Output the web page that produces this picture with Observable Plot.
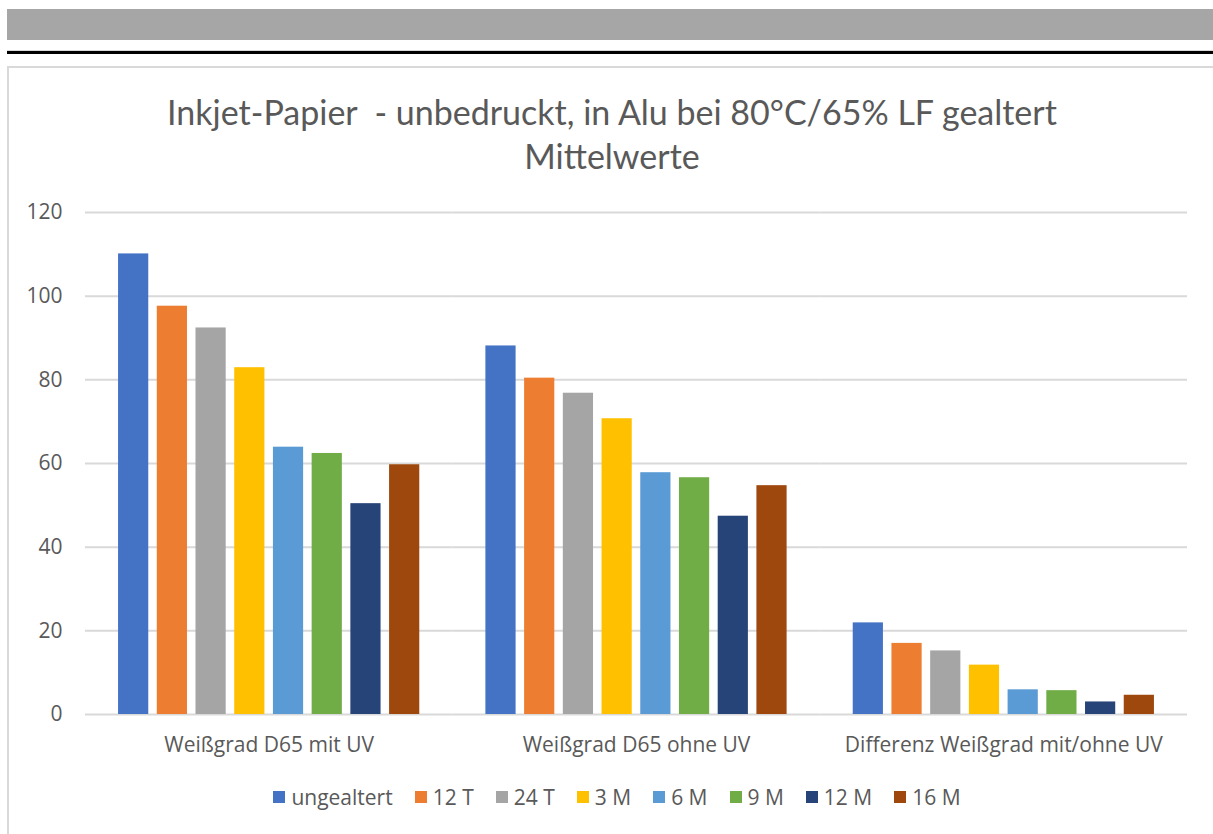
<!DOCTYPE html>
<html><head><meta charset="utf-8">
<script src="https://cdn.jsdelivr.net/npm/d3@7"></script>
<script src="https://cdn.jsdelivr.net/npm/@observablehq/plot@0.6"></script>
<style>
html,body{margin:0;padding:0;background:#fff;width:1213px;height:834px;overflow:hidden;position:relative;}
#band{position:absolute;left:7px;top:9px;width:1206px;height:31px;background:#a6a6a6;}
#thin{position:absolute;left:7px;top:50px;width:1206px;height:1px;background:#d9d9d9;}
#rule{position:absolute;left:7px;top:51px;width:1206px;height:3px;background:#000;}
#frame{position:absolute;left:7px;top:66px;width:1240px;height:820px;border-left:2px solid #d9d9d9;border-top:2px solid #d9d9d9;}
#title{position:absolute;left:0;top:90px;width:1224px;text-align:center;font-family:Lato,"Open Sans",sans-serif;font-size:34px;line-height:44px;color:#595959;white-space:pre;}
#chart{position:absolute;left:0;top:190px;}
#legend{position:absolute;left:0;top:783px;width:1234px;display:flex;justify-content:center;align-items:center;gap:22px;font-family:"Open Sans",sans-serif;font-size:21px;color:#595959;}
#legend .item{display:flex;align-items:center;}
#legend .sw{width:12px;height:12px;margin-right:6px;}
</style>
</head><body>
<div id="band"></div><div id="thin"></div><div id="rule"></div><div id="frame"></div>
<div id="title"></div>
<div id="chart"></div>
<div id="legend"></div>
<script>
const titleLines = ["Inkjet-Papier  - unbedruckt, in Alu bei 80°C/65% LF gealtert", "Mittelwerte"];
const categories = ["Weißgrad D65 mit UV", "Weißgrad D65 ohne UV", "Differenz Weißgrad mit/ohne UV"];
const series = ["ungealtert", "12 T", "24 T", "3 M", "6 M", "9 M", "12 M", "16 M"];
const mitUV = [110.1, 97.6, 92.4, 82.9, 63.9, 62.4, 50.4, 59.7];
const ohneUV = [88.1, 80.4, 76.8, 70.7, 57.8, 56.6, 47.4, 54.7];
const differenz = [21.9, 17.0, 15.2, 11.8, 5.9, 5.7, 3.0, 4.6];
const colors = ["#4472C4", "#ED7D31", "#A5A5A5", "#FFC000", "#5B9BD5", "#70AD47", "#264478", "#9E480E"];
const yTicks = [0, 20, 40, 60, 80, 100, 120];

document.getElementById("title").textContent = titleLines.join("\n");

const groups = [mitUV, ohneUV, differenz];
const data = categories.flatMap((c, i) => series.map((s, j) => ({cat: c, series: s, value: groups[i][j]})));

const plot = Plot.plot({
  width: 1213,
  height: 580,
  marginLeft: 85,
  marginRight: 26,
  marginTop: 22,
  marginBottom: 56,
  style: {fontFamily: "'Open Sans', sans-serif", fontSize: "21px", color: "#595959", background: "transparent", overflow: "visible"},
  fx: {domain: categories, paddingInner: 0.18, paddingOuter: 0.09, round: false, label: null, axis: "bottom", tickSize: 0, tickPadding: 23},
  x: {domain: series, paddingInner: 0.22, paddingOuter: 0, round: false, axis: null},
  y: {domain: [0, 120], ticks: yTicks, tickSize: 0, tickPadding: 56, label: null},
  color: {domain: series, range: colors},
  marks: [
    Plot.ruleY(yTicks, {stroke: "#d9d9d9", strokeWidth: 2, insetLeft: -33.1, insetRight: -33.1}),
    Plot.barY(data, {fx: "cat", x: "series", y: "value", fill: "series"})
  ]
});
document.getElementById("chart").appendChild(plot);

const legend = document.getElementById("legend");
series.forEach((s, i) => {
  const item = document.createElement("div");
  item.className = "item";
  const sw = document.createElement("div");
  sw.className = "sw";
  sw.style.background = colors[i];
  const t = document.createElement("span");
  t.textContent = s;
  item.appendChild(sw);
  item.appendChild(t);
  legend.appendChild(item);
});
</script>
</body></html>
